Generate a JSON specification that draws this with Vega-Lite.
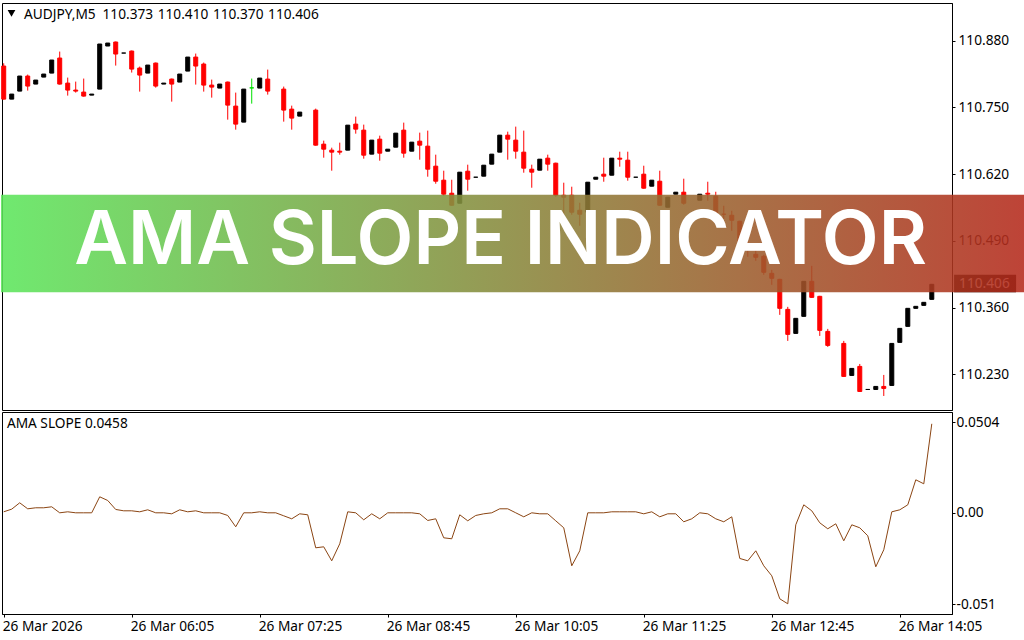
{
  "$schema": "https://vega.github.io/schema/vega-lite/v6.json",
  "background": "white",
  "padding": {"left": 0, "top": 2, "right": 0, "bottom": 0},
  "spacing": 0,
  "config": {
    "view": {"stroke": "#000000", "strokeWidth": 1},
    "axis": {"labelFont": "Noto Sans", "labelFontSize": 13.7, "labelColor": "#000000", "domainColor": "#000000", "tickColor": "#000000", "grid": false, "title": null}
  },
  "datasets": {
    "bars": [
      {"time":"2026-03-26T04:45Z","dir":"down","open":110.8303,"high":110.8357,"low":110.7649,"close":110.7659,"slope":0.00056},
      {"time":"2026-03-26T04:50Z","dir":"up","open":110.7659,"high":110.7757,"low":110.7659,"close":110.7757,"slope":0.00204},
      {"time":"2026-03-26T04:55Z","dir":"up","open":110.7815,"high":110.8108,"low":110.7815,"close":110.8108,"slope":0.00557},
      {"time":"2026-03-26T05:00Z","dir":"down","open":110.8108,"high":110.8137,"low":110.7825,"close":110.7913,"slope":0.00223},
      {"time":"2026-03-26T05:05Z","dir":"up","open":110.7952,"high":110.803,"low":110.7952,"close":110.803,"slope":0.00279},
      {"time":"2026-03-26T05:10Z","dir":"up","open":110.8088,"high":110.8147,"low":110.8088,"close":110.8147,"slope":0.00279},
      {"time":"2026-03-26T05:15Z","dir":"up","open":110.8166,"high":110.842,"low":110.8166,"close":110.842,"slope":0.00334},
      {"time":"2026-03-26T05:20Z","dir":"down","open":110.8459,"high":110.8585,"low":110.7942,"close":110.7952,"slope":0},
      {"time":"2026-03-26T05:25Z","dir":"down","open":110.7971,"high":110.8078,"low":110.7727,"close":110.7835,"slope":0.00056},
      {"time":"2026-03-26T05:30Z","dir":"down","open":110.7835,"high":110.8,"low":110.7786,"close":110.7815,"slope":0},
      {"time":"2026-03-26T05:35Z","dir":"down","open":110.7796,"high":110.8059,"low":110.7708,"close":110.7718,"slope":0},
      {"time":"2026-03-26T05:40Z","dir":"up","open":110.7737,"high":110.7757,"low":110.7737,"close":110.7757,"slope":0},
      {"time":"2026-03-26T05:45Z","dir":"up","open":110.7854,"high":110.8732,"low":110.7854,"close":110.8732,"slope":0.00891},
      {"time":"2026-03-26T05:50Z","dir":"up","open":110.8693,"high":110.8751,"low":110.8693,"close":110.8751,"slope":0.00687},
      {"time":"2026-03-26T05:55Z","dir":"down","open":110.8771,"high":110.878,"low":110.8312,"close":110.8537,"slope":0.00186},
      {"time":"2026-03-26T06:00Z","dir":"up","open":110.8556,"high":110.8556,"low":110.8556,"close":110.8556,"slope":0.00111},
      {"time":"2026-03-26T06:05Z","dir":"down","open":110.8595,"high":110.8605,"low":110.8176,"close":110.8244,"slope":0.00111},
      {"time":"2026-03-26T06:10Z","dir":"down","open":110.8264,"high":110.8293,"low":110.7805,"close":110.8127,"slope":0.00056},
      {"time":"2026-03-26T06:15Z","dir":"up","open":110.8166,"high":110.8322,"low":110.8166,"close":110.8322,"slope":0.00167},
      {"time":"2026-03-26T06:20Z","dir":"down","open":110.8361,"high":110.8371,"low":110.7883,"close":110.7913,"slope":0},
      {"time":"2026-03-26T06:25Z","dir":"up","open":110.7952,"high":110.7971,"low":110.7952,"close":110.7971,"slope":0},
      {"time":"2026-03-26T06:30Z","dir":"down","open":110.8049,"high":110.8059,"low":110.761,"close":110.7952,"slope":-0.00056},
      {"time":"2026-03-26T06:35Z","dir":"up","open":110.7991,"high":110.8147,"low":110.7991,"close":110.8147,"slope":0.00167},
      {"time":"2026-03-26T06:40Z","dir":"up","open":110.8205,"high":110.8478,"low":110.8205,"close":110.8478,"slope":0.00056},
      {"time":"2026-03-26T06:45Z","dir":"down","open":110.8478,"high":110.8546,"low":110.7942,"close":110.8303,"slope":0.00111},
      {"time":"2026-03-26T06:50Z","dir":"down","open":110.8342,"high":110.8371,"low":110.7805,"close":110.7932,"slope":0},
      {"time":"2026-03-26T06:55Z","dir":"down","open":110.7932,"high":110.8039,"low":110.7688,"close":110.7893,"slope":0},
      {"time":"2026-03-26T07:00Z","dir":"up","open":110.7874,"high":110.7952,"low":110.7874,"close":110.7952,"slope":0},
      {"time":"2026-03-26T07:05Z","dir":"down","open":110.7991,"high":110.8,"low":110.7259,"close":110.7542,"slope":-0.00149},
      {"time":"2026-03-26T07:10Z","dir":"down","open":110.7523,"high":110.7786,"low":110.7064,"close":110.7172,"slope":-0.0078},
      {"time":"2026-03-26T07:15Z","dir":"up","open":110.7211,"high":110.7854,"low":110.7211,"close":110.7854,"slope":0},
      {"time":"2026-03-26T07:20Z","dir":"flat","open":110.7878,"high":110.8059,"low":110.7571,"close":110.7878,"slope":0},
      {"time":"2026-03-26T07:25Z","dir":"up","open":110.7874,"high":110.8069,"low":110.7874,"close":110.8069,"slope":0.00056},
      {"time":"2026-03-26T07:30Z","dir":"down","open":110.8049,"high":110.8234,"low":110.7747,"close":110.7815,"slope":0},
      {"time":"2026-03-26T07:35Z","slope":0},
      {"time":"2026-03-26T07:40Z","dir":"down","open":110.7854,"high":110.7903,"low":110.722,"close":110.7445,"slope":-0.00167},
      {"time":"2026-03-26T07:45Z","dir":"down","open":110.7464,"high":110.7532,"low":110.7064,"close":110.7289,"slope":-0.00334},
      {"time":"2026-03-26T07:50Z","dir":"up","open":110.7328,"high":110.7406,"low":110.7328,"close":110.7406,"slope":-0.00056},
      {"time":"2026-03-26T07:55Z","slope":-0.00111},
      {"time":"2026-03-26T08:00Z","dir":"down","open":110.7445,"high":110.7474,"low":110.6752,"close":110.6762,"slope":-0.0195},
      {"time":"2026-03-26T08:05Z","dir":"down","open":110.6782,"high":110.685,"low":110.6518,"close":110.6684,"slope":-0.01894},
      {"time":"2026-03-26T08:10Z","dir":"down","open":110.6665,"high":110.6713,"low":110.6265,"close":110.6626,"slope":-0.02674},
      {"time":"2026-03-26T08:15Z","dir":"down","open":110.6645,"high":110.6811,"low":110.6577,"close":110.6626,"slope":-0.01727},
      {"time":"2026-03-26T08:20Z","dir":"up","open":110.6665,"high":110.7152,"low":110.6665,"close":110.7152,"slope":0.00056},
      {"time":"2026-03-26T08:25Z","dir":"down","open":110.7172,"high":110.7318,"low":110.6986,"close":110.7074,"slope":0},
      {"time":"2026-03-26T08:30Z","dir":"down","open":110.7055,"high":110.7162,"low":110.6499,"close":110.6567,"slope":-0.0039},
      {"time":"2026-03-26T08:35Z","dir":"up","open":110.6587,"high":110.686,"low":110.6587,"close":110.686,"slope":-0.00056},
      {"time":"2026-03-26T08:40Z","dir":"down","open":110.6879,"high":110.6947,"low":110.646,"close":110.6606,"slope":-0.00334},
      {"time":"2026-03-26T08:45Z","dir":"up","open":110.6645,"high":110.6684,"low":110.6645,"close":110.6684,"slope":0},
      {"time":"2026-03-26T08:50Z","dir":"up","open":110.6723,"high":110.6996,"low":110.6723,"close":110.6996,"slope":0},
      {"time":"2026-03-26T08:55Z","dir":"down","open":110.7055,"high":110.7201,"low":110.6518,"close":110.6606,"slope":0},
      {"time":"2026-03-26T09:00Z","dir":"up","open":110.6645,"high":110.6821,"low":110.6645,"close":110.6821,"slope":0},
      {"time":"2026-03-26T09:05Z","dir":"down","open":110.684,"high":110.7006,"low":110.6479,"close":110.6762,"slope":-0.00056},
      {"time":"2026-03-26T09:10Z","dir":"down","open":110.6743,"high":110.7045,"low":110.6148,"close":110.6294,"slope":-0.00427},
      {"time":"2026-03-26T09:15Z","dir":"down","open":110.6353,"high":110.6577,"low":110.6011,"close":110.606,"slope":-0.00334},
      {"time":"2026-03-26T09:20Z","dir":"down","open":110.608,"high":110.6265,"low":110.5777,"close":110.5807,"slope":-0.01393},
      {"time":"2026-03-26T09:25Z","dir":"down","open":110.5826,"high":110.6089,"low":110.5582,"close":110.5592,"slope":-0.01448},
      {"time":"2026-03-26T09:30Z","dir":"up","open":110.5631,"high":110.6236,"low":110.5631,"close":110.6236,"slope":-0.00111},
      {"time":"2026-03-26T09:35Z","dir":"down","open":110.6255,"high":110.6382,"low":110.5875,"close":110.6099,"slope":-0.00446},
      {"time":"2026-03-26T09:40Z","dir":"up","open":110.6138,"high":110.6138,"low":110.6138,"close":110.6138,"slope":-0.00149},
      {"time":"2026-03-26T09:45Z","dir":"up","open":110.6158,"high":110.6372,"low":110.6158,"close":110.6372,"slope":-0.00056},
      {"time":"2026-03-26T09:50Z","dir":"up","open":110.6392,"high":110.6587,"low":110.6392,"close":110.6587,"slope":0},
      {"time":"2026-03-26T09:55Z","dir":"up","open":110.6626,"high":110.6957,"low":110.6626,"close":110.6957,"slope":0.00223},
      {"time":"2026-03-26T10:00Z","dir":"down","open":110.6957,"high":110.7025,"low":110.6479,"close":110.6879,"slope":0.00223},
      {"time":"2026-03-26T10:05Z","dir":"down","open":110.686,"high":110.7123,"low":110.6499,"close":110.6645,"slope":0},
      {"time":"2026-03-26T10:10Z","dir":"down","open":110.6626,"high":110.7045,"low":110.6226,"close":110.6314,"slope":-0.00223},
      {"time":"2026-03-26T10:15Z","dir":"down","open":110.6294,"high":110.6382,"low":110.5933,"close":110.6236,"slope":0},
      {"time":"2026-03-26T10:20Z","dir":"up","open":110.6275,"high":110.6489,"low":110.6275,"close":110.6489,"slope":-0.00056},
      {"time":"2026-03-26T10:25Z","dir":"down","open":110.6509,"high":110.6577,"low":110.6265,"close":110.6392,"slope":-0.00056},
      {"time":"2026-03-26T10:30Z","dir":"down","open":110.6411,"high":110.6421,"low":110.5758,"close":110.5787,"slope":-0.00446},
      {"time":"2026-03-26T10:35Z","dir":"down","open":110.5787,"high":110.6031,"low":110.5212,"close":110.5748,"slope":-0.00836},
      {"time":"2026-03-26T10:40Z","dir":"down","open":110.5787,"high":110.5953,"low":110.5407,"close":110.5456,"slope":-0.02953},
      {"time":"2026-03-26T10:45Z","dir":"down","open":110.5495,"high":110.5641,"low":110.5192,"close":110.5417,"slope":-0.02117},
      {"time":"2026-03-26T10:50Z","dir":"up","open":110.5456,"high":110.6041,"low":110.5456,"close":110.6041,"slope":0},
      {"time":"2026-03-26T10:55Z","dir":"up","open":110.6099,"high":110.6138,"low":110.6099,"close":110.6138,"slope":0},
      {"time":"2026-03-26T11:00Z","dir":"down","open":110.6197,"high":110.6518,"low":110.605,"close":110.6158,"slope":0},
      {"time":"2026-03-26T11:05Z","dir":"up","open":110.6177,"high":110.6509,"low":110.6177,"close":110.6509,"slope":0.00056},
      {"time":"2026-03-26T11:10Z","dir":"down","open":110.6509,"high":110.6635,"low":110.6343,"close":110.6489,"slope":0.00056},
      {"time":"2026-03-26T11:15Z","dir":"down","open":110.647,"high":110.6635,"low":110.607,"close":110.6138,"slope":0.00056},
      {"time":"2026-03-26T11:20Z","dir":"up","open":110.6138,"high":110.6138,"low":110.6138,"close":110.6138,"slope":0.00056},
      {"time":"2026-03-26T11:25Z","dir":"down","open":110.6197,"high":110.6362,"low":110.5914,"close":110.5924,"slope":-0.00056},
      {"time":"2026-03-26T11:30Z","dir":"up","open":110.5963,"high":110.608,"low":110.5963,"close":110.608,"slope":0.00056},
      {"time":"2026-03-26T11:35Z","dir":"down","open":110.606,"high":110.6265,"low":110.5582,"close":110.5592,"slope":-0.00223},
      {"time":"2026-03-26T11:40Z","dir":"up","open":110.5553,"high":110.5748,"low":110.5553,"close":110.5748,"slope":-0.00056},
      {"time":"2026-03-26T11:45Z","dir":"up","open":110.5807,"high":110.5846,"low":110.5807,"close":110.5846,"slope":-0.00056},
      {"time":"2026-03-26T11:50Z","dir":"down","open":110.5846,"high":110.6109,"low":110.5602,"close":110.5631,"slope":-0.00501},
      {"time":"2026-03-26T11:55Z","slope":-0.00334},
      {"time":"2026-03-26T12:00Z","dir":"up","open":110.569,"high":110.5807,"low":110.569,"close":110.5807,"slope":0},
      {"time":"2026-03-26T12:05Z","dir":"down","open":110.5826,"high":110.605,"low":110.568,"close":110.5807,"slope":-0.00056},
      {"time":"2026-03-26T12:10Z","dir":"down","open":110.5768,"high":110.5855,"low":110.5387,"close":110.5417,"slope":-0.00334},
      {"time":"2026-03-26T12:15Z","dir":"down","open":110.5417,"high":110.5582,"low":110.5329,"close":110.5417,"slope":-0.00501},
      {"time":"2026-03-26T12:20Z","dir":"down","open":110.5397,"high":110.5485,"low":110.5095,"close":110.53,"slope":-0.00223},
      {"time":"2026-03-26T12:25Z","dir":"down","open":110.528,"high":110.529,"low":110.4783,"close":110.4793,"slope":-0.02544},
      {"time":"2026-03-26T12:30Z","dir":"down","open":110.4793,"high":110.49,"low":110.4588,"close":110.4793,"slope":-0.02674},
      {"time":"2026-03-26T12:35Z","dir":"down","open":110.4637,"high":110.4783,"low":110.451,"close":110.4578,"slope":-0.02117},
      {"time":"2026-03-26T12:40Z","dir":"down","open":110.4598,"high":110.4627,"low":110.4237,"close":110.4286,"slope":-0.02953},
      {"time":"2026-03-26T12:45Z","dir":"down","open":110.4266,"high":110.4334,"low":110.4042,"close":110.4169,"slope":-0.0351},
      {"time":"2026-03-26T12:50Z","dir":"down","open":110.4149,"high":110.4159,"low":110.3457,"close":110.3584,"slope":-0.04791},
      {"time":"2026-03-26T12:55Z","dir":"down","open":110.3564,"high":110.3613,"low":110.295,"close":110.3077,"slope":-0.0507},
      {"time":"2026-03-26T13:00Z","dir":"up","open":110.3096,"high":110.3389,"low":110.3096,"close":110.3389,"slope":-0.00669},
      {"time":"2026-03-26T13:05Z","dir":"up","open":110.3428,"high":110.411,"low":110.3428,"close":110.411,"slope":0.00446},
      {"time":"2026-03-26T13:10Z","dir":"down","open":110.411,"high":110.4412,"low":110.3788,"close":110.3798,"slope":0.00111},
      {"time":"2026-03-26T13:15Z","dir":"down","open":110.3818,"high":110.3827,"low":110.3047,"close":110.3155,"slope":-0.00557},
      {"time":"2026-03-26T13:20Z","dir":"down","open":110.3135,"high":110.3184,"low":110.2833,"close":110.2862,"slope":-0.00891},
      {"time":"2026-03-26T13:25Z","slope":-0.00613},
      {"time":"2026-03-26T13:30Z","dir":"down","open":110.2901,"high":110.295,"low":110.2248,"close":110.2258,"slope":-0.0156},
      {"time":"2026-03-26T13:35Z","dir":"up","open":110.2277,"high":110.2414,"low":110.2277,"close":110.2414,"slope":-0.00669},
      {"time":"2026-03-26T13:40Z","dir":"down","open":110.2453,"high":110.2501,"low":110.1955,"close":110.1965,"slope":-0.00836},
      {"time":"2026-03-26T13:45Z","dir":"up","open":110.2004,"high":110.2004,"low":110.2004,"close":110.2004,"slope":-0.01281},
      {"time":"2026-03-26T13:50Z","dir":"up","open":110.2004,"high":110.2063,"low":110.2004,"close":110.2063,"slope":-0.03008},
      {"time":"2026-03-26T13:55Z","dir":"down","open":110.2063,"high":110.2287,"low":110.1877,"close":110.2024,"slope":-0.02061},
      {"time":"2026-03-26T14:00Z","dir":"up","open":110.2082,"high":110.2901,"low":110.2082,"close":110.2901,"slope":0.00056},
      {"time":"2026-03-26T14:05Z","dir":"up","open":110.2921,"high":110.3194,"low":110.2921,"close":110.3194,"slope":0.00167},
      {"time":"2026-03-26T14:10Z","dir":"up","open":110.3233,"high":110.3584,"low":110.3233,"close":110.3584,"slope":0.00446},
      {"time":"2026-03-26T14:15Z","dir":"up","open":110.3584,"high":110.3623,"low":110.3584,"close":110.3623,"slope":0.01838},
      {"time":"2026-03-26T14:20Z","dir":"up","open":110.3642,"high":110.3701,"low":110.3642,"close":110.3701,"slope":0.01616},
      {"time":"2026-03-26T14:25Z","dir":"up","open":110.3759,"high":110.4052,"low":110.3759,"close":110.4052,"slope":0.04958}
    ],
    "banner": [
      {"start":"2026-03-26T04:43:19Z","end":"2026-03-26T15:23:20Z","top":110.5797,"bottom":110.3896,"middle":"2026-03-26T09:55:30Z","level":110.488,"label":"AMA SLOPE INDICATOR"}
    ],
    "tag": [
      {"start":"2026-03-26T14:38:56Z","end":"2026-03-26T15:17:42Z","textAt":"2026-03-26T14:42:05Z","top":110.4237,"bottom":110.3897,"price":110.406,"label":"110.406"}
    ],
    "header": [
      {"time":"2026-03-26T04:57:42Z","price":110.9307,"label":"AUDJPY,M5\u2002110.373\u2004110.410\u2004110.370\u2004110.406","arrowAt":"2026-03-26T04:49:52Z","arrowPrice":110.9327}
    ],
    "subheader": [
      {"time":"2026-03-26T04:47:00Z","slope":0.0492,"label":"AMA SLOPE 0.0458"}
    ]
  },
  "vconcat": [
    {
      "width": 950,
      "height": 407,
      "layer": [
        {
          "data": {"name": "bars"},
          "mark": {"type": "rule", "strokeWidth": 1},
          "encoding": {
            "x": {"field": "time", "type": "temporal", "scale": {"type": "utc", "padding": 0, "domain": ["2026-03-26T04:43:56Z", "2026-03-26T14:37:38Z"]}, "axis": null},
            "y": {
              "field": "low",
              "type": "quantitative",
              "scale": {"domain": [110.1604, 110.9531]},
              "axis": {"orient": "right", "values": [110.23, 110.36, 110.49, 110.62, 110.75, 110.88], "format": ".3f", "tickSize": 3, "labelPadding": 3}
            },
            "y2": {"field": "high"},
            "color": {"field": "dir", "type": "nominal", "scale": {"domain": ["up", "down", "flat"], "range": ["#000000", "#ff0000", "#00e000"]}, "legend": null}
          }
        },
        {
          "data": {"name": "bars"},
          "mark": {"type": "bar", "size": 4, "strokeWidth": 1},
          "encoding": {
            "x": {"field": "time", "type": "temporal", "scale": {"type": "utc", "padding": 0, "domain": ["2026-03-26T04:43:56Z", "2026-03-26T14:37:38Z"]}, "axis": null},
            "y": {"field": "open", "type": "quantitative", "scale": {"domain": [110.1604, 110.9531]}},
            "y2": {"field": "close"},
            "color": {"field": "dir", "type": "nominal", "legend": null},
            "stroke": {"field": "dir", "type": "nominal", "scale": {"domain": ["up", "down", "flat"], "range": ["#000000", "#ff0000", "#00e000"]}, "legend": null}
          }
        },
        {
          "data": {"name": "header"},
          "mark": {"type": "text", "align": "left", "baseline": "middle", "font": "Noto Sans", "fontSize": 13.7, "color": "#000000"},
          "encoding": {
            "x": {"field": "time", "type": "temporal", "scale": {"type": "utc", "padding": 0, "domain": ["2026-03-26T04:43:56Z", "2026-03-26T14:37:38Z"]}, "axis": null},
            "y": {"field": "price", "type": "quantitative", "scale": {"domain": [110.1604, 110.9531]}},
            "text": {"field": "label"}
          }
        },
        {
          "data": {"name": "header"},
          "mark": {"type": "point", "shape": "triangle-down", "filled": true, "size": 60, "color": "#000000", "opacity": 1},
          "encoding": {
            "x": {"field": "arrowAt", "type": "temporal", "scale": {"type": "utc", "padding": 0, "domain": ["2026-03-26T04:43:56Z", "2026-03-26T14:37:38Z"]}, "axis": null},
            "y": {"field": "arrowPrice", "type": "quantitative", "scale": {"domain": [110.1604, 110.9531]}}
          }
        },
        {
          "data": {"name": "tag"},
          "mark": {"type": "rect", "color": "#000000"},
          "encoding": {
            "x": {"field": "start", "type": "temporal", "scale": {"type": "utc", "padding": 0, "domain": ["2026-03-26T04:43:56Z", "2026-03-26T14:37:38Z"]}, "axis": null},
            "x2": {"field": "end"},
            "y": {"field": "top", "type": "quantitative", "scale": {"domain": [110.1604, 110.9531]}},
            "y2": {"field": "bottom"}
          }
        },
        {
          "data": {"name": "tag"},
          "mark": {"type": "text", "align": "left", "baseline": "middle", "font": "Noto Sans", "fontSize": 13.7, "color": "#ffffff"},
          "encoding": {
            "x": {"field": "textAt", "type": "temporal", "scale": {"type": "utc", "padding": 0, "domain": ["2026-03-26T04:43:56Z", "2026-03-26T14:37:38Z"]}, "axis": null},
            "y": {"field": "price", "type": "quantitative", "scale": {"domain": [110.1604, 110.9531]}},
            "text": {"field": "label"}
          }
        },
        {
          "data": {"name": "banner"},
          "mark": {
            "type": "rect",
            "opacity": 0.88,
            "color": {
              "gradient": "linear",
              "x1": 0, "y1": 0, "x2": 1, "y2": 0,
              "stops": [{"offset": 0, "color": "#5ce65c"}, {"offset": 1, "color": "#b52a1c"}]
            }
          },
          "encoding": {
            "x": {"field": "start", "type": "temporal", "scale": {"type": "utc", "padding": 0, "domain": ["2026-03-26T04:43:56Z", "2026-03-26T14:37:38Z"]}, "axis": null},
            "x2": {"field": "end"},
            "y": {"field": "top", "type": "quantitative", "scale": {"domain": [110.1604, 110.9531]}},
            "y2": {"field": "bottom"}
          }
        },
        {
          "data": {"name": "banner"},
          "mark": {"type": "text", "align": "center", "baseline": "middle", "font": "Inter", "fontWeight": 600, "fontSize": 74, "color": "#ffffff"},
          "encoding": {
            "x": {"field": "middle", "type": "temporal", "scale": {"type": "utc", "padding": 0, "domain": ["2026-03-26T04:43:56Z", "2026-03-26T14:37:38Z"]}, "axis": null},
            "y": {"field": "level", "type": "quantitative", "scale": {"domain": [110.1604, 110.9531]}},
            "text": {"field": "label"}
          }
        }
      ]
    },
    {
      "width": 950,
      "height": 202,
      "encoding": {
        "x": {
          "field": "time",
          "type": "temporal",
          "scale": {"type": "utc", "domain": ["2026-03-26T04:43:56Z", "2026-03-26T14:37:38Z"]},
          "axis": {
            "values": ["2026-03-26T04:45:00Z", "2026-03-26T06:05:00Z", "2026-03-26T07:25:00Z", "2026-03-26T08:45:00Z", "2026-03-26T10:05:00Z", "2026-03-26T11:25:00Z", "2026-03-26T12:45:00Z", "2026-03-26T14:05:00Z"],
            "labelExpr": "datum.index == 0 ? '26 Mar 2026' : utcFormat(datum.value, '%d %b %H:%M')",
            "labelAlign": "left",
            "labelFlush": false,
            "labelOverlap": false,
            "labelPadding": 2,
            "labelOffset": -1.5,
            "tickSize": 3
          }
        }
      },
      "layer": [
        {
          "data": {"name": "bars"},
          "mark": {"type": "line", "color": "#8b4513", "strokeWidth": 1},
          "encoding": {
            "y": {
              "field": "slope",
              "type": "quantitative",
              "scale": {"domain": [-0.05638, 0.05616]},
              "axis": {"orient": "right", "values": [-0.051, 0, 0.0504], "labelExpr": "datum.value == 0 ? '0.00' : '' + datum.value", "tickSize": 3, "labelPadding": 1}
            }
          }
        },
        {
          "data": {"name": "subheader"},
          "mark": {"type": "text", "align": "left", "baseline": "middle", "font": "Noto Sans", "fontSize": 13.7, "color": "#000000"},
          "encoding": {
            "y": {"field": "slope", "type": "quantitative", "scale": {"domain": [-0.05638, 0.05616]}},
            "text": {"field": "label"}
          }
        }
      ]
    }
  ]
}
